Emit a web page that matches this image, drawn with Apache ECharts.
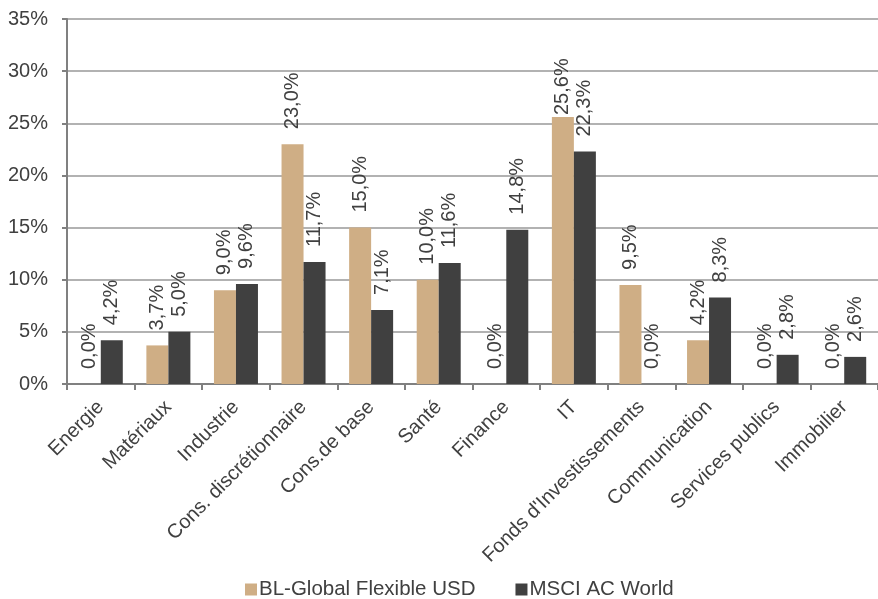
<!DOCTYPE html>
<html>
<head>
<meta charset="utf-8">
<script src="https://cdn.jsdelivr.net/npm/echarts@6/dist/echarts.min.js"></script>
<style>
  html, body { margin: 0; padding: 0; background: #fff; }
  #chart { width: 878px; height: 599px; }
</style>
</head>
<body>
<div id="chart"></div>
<script>
// secteurs
const categories = ['Energie', 'Matériaux', 'Industrie', 'Cons. discrétionnaire', 'Cons.de base', 'Santé',
  'Finance', 'IT', "Fonds d'Investissements", 'Communication', 'Services publics', 'Immobilier'];
// poids en %
const fundValues = [0, 3.7, 9.0, 23.0, 15.0, 10.0, 0, 25.6, 9.5, 4.2, 0, 0];
const msciValues = [4.2, 5.0, 9.6, 11.7, 7.1, 11.6, 14.8, 22.3, 0, 8.3, 2.8, 2.6];
const seriesNames = ['BL-Global Flexible USD', 'MSCI AC World'];

const textColor = '#404040';
const fmt = v => v.toFixed(1).replace('.', ',') + '%';

const labelStyle = {
  show: true,
  position: 'top',
  rotate: 90,
  align: 'left',
  verticalAlign: 'middle',
  distance: 15,
  fontSize: 20,
  color: textColor,
  formatter: p => fmt(p.value)
};

// 25,6% est collé à la barre dans l'original
const fundData = fundValues.map((v, i) =>
  i === 7 ? { value: v, label: { distance: 2 } } : v);

var myChart = echarts.init(document.getElementById('chart'));
myChart.setOption({
  animation: false,
  textStyle: { fontFamily: 'Liberation Sans, Arial' },
  grid: { left: 67, right: -9, top: 19, bottom: 215, containLabel: false },
  legend: {
    data: seriesNames,
    left: 245,
    top: 579,
    padding: 0,
    icon: 'rect',
    itemWidth: 12,
    itemHeight: 12,
    itemGap: 40,
    textStyle: { fontSize: 20.5, color: textColor, padding: [0, 0, 0, -3] }
  },
  xAxis: {
    type: 'category',
    data: categories,
    axisLine: { lineStyle: { color: '#808080', width: 2 } },
    axisTick: { show: true, length: 6, lineStyle: { color: '#808080', width: 2 } },
    axisLabel: { rotate: 45, margin: 20, fontSize: 20, color: textColor, interval: 0 }
  },
  yAxis: {
    type: 'value',
    min: 0,
    max: 35,
    interval: 5,
    axisLine: { show: true, lineStyle: { color: '#808080', width: 2 } },
    axisTick: { show: true, length: 5, lineStyle: { color: '#808080', width: 2 } },
    axisLabel: { formatter: '{value}%', fontSize: 20, color: textColor, margin: 19 },
    splitLine: { lineStyle: { color: '#999999', width: 1.5 } }
  },
  series: [
    {
      name: seriesNames[0],
      type: 'bar',
      data: fundData,
      barWidth: 22,
      barGap: 0,
      itemStyle: { color: '#CFAE85' },
      label: labelStyle
    },
    {
      name: seriesNames[1],
      type: 'bar',
      data: msciValues,
      barWidth: 22,
      barGap: 0,
      itemStyle: { color: '#404040' },
      label: labelStyle
    }
  ]
});
</script>
</body>
</html>
